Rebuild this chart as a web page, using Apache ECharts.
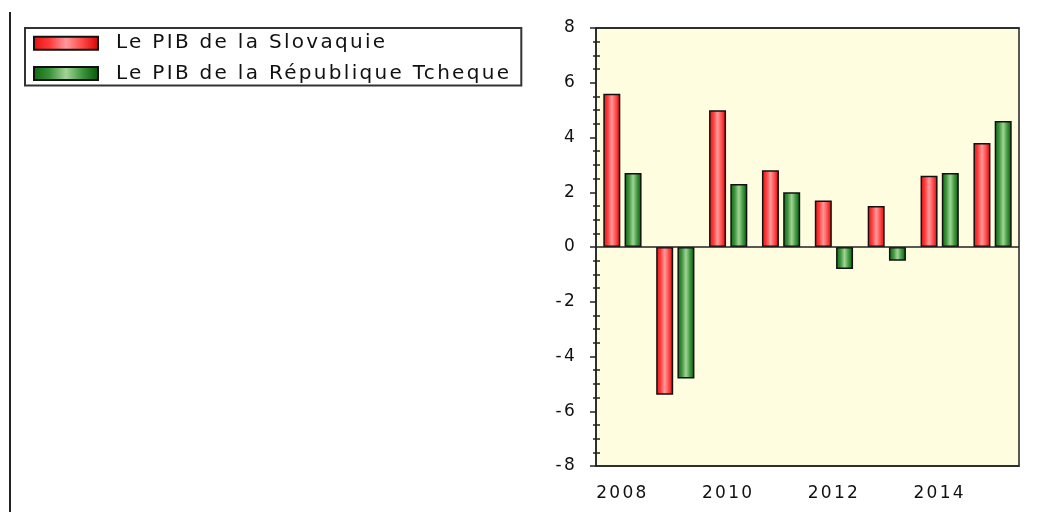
<!DOCTYPE html>
<html>
<head>
<meta charset="utf-8">
<title>PIB Slovaquie / République Tcheque</title>
<script src="https://cdn.jsdelivr.net/npm/echarts@6/dist/echarts.min.js"></script>
<style>
  html, body { margin: 0; padding: 0; background: #fff; }
  #chart { width: 1053px; height: 512px; }
</style>
</head>
<body>
<div id="chart"></div>
<script>
// data
const years = ['2008', '2009', '2010', '2011', '2012', '2013', '2014', '2015']
const slovaquie = [5.6, -5.4, 5.0, 2.8, 1.7, 1.5, 2.6, 3.8]
const tcheque = [2.7, -4.8, 2.3, 2.0, -0.8, -0.5, 2.7, 4.6]
const seriesNames = ['Le PIB de la Slovaquie', 'Le PIB de la République Tcheque']
const yTicks = { min: -8, max: 8, step: 2 }

// the original text is drawn wide, add a bit of letter spacing
const proto = CanvasRenderingContext2D.prototype
const rawFill = proto.fillText
const rawMeasure = proto.measureText
proto.fillText = function () {
  this.letterSpacing = '2.3px'
  return rawFill.apply(this, arguments)
}
proto.measureText = function () {
  this.letterSpacing = '2.3px'
  return rawMeasure.apply(this, arguments)
}

const font = 'DejaVu Sans, Verdana, sans-serif'
const black = '#111'
const lineCol = '#222'

function barGradient (stops) {
  return new echarts.graphic.LinearGradient(0, 0, 1, 0,
    stops.map((c, i) => ({ offset: i / (stops.length - 1), color: c })))
}

const red = barGradient(['#e81010', '#ff3a3a', '#ff9a9a', '#ff4848', '#d80000'])
const green = barGradient(['#0c6a0c', '#3a923a', '#a2d496', '#3c963c', '#065406'])

const hidden = { show: false }
const oddTick = (i) => i % 2 === 1

const option = {
  animation: false,
  textStyle: { fontFamily: font, color: black },
  graphic: [
    {
      type: 'line',
      shape: { x1: 10, y1: 12, x2: 10, y2: 512 },
      style: { stroke: lineCol, lineWidth: 2 }
    }
  ],
  legend: {
    orient: 'vertical',
    left: 25,
    top: 28,
    padding: [4, 10, 1, 8],
    itemGap: 8,
    itemWidth: 64,
    itemHeight: 13,
    icon: 'rect',
    borderColor: '#333',
    borderWidth: 2,
    textStyle: { fontSize: 20, fontFamily: font, color: black, padding: [0, 0, 0, 13] },
    data: seriesNames
  },
  grid: {
    left: 596,
    right: 34,
    top: 28,
    bottom: 46,
    show: true,
    backgroundColor: '#fffde0',
    borderColor: lineCol,
    borderWidth: 1.5
  },
  xAxis: [
    {
      type: 'category',
      position: 'bottom',
      data: years,
      axisLine: { onZero: false, lineStyle: { color: lineCol, width: 1.5 } },
      axisTick: { alignWithLabel: true, interval: oddTick, length: 8, lineStyle: { color: lineCol, width: 1.5 } },
      axisLabel: { interval: 1, margin: 18, fontSize: 17, color: black, fontFamily: font }
    },
    {
      type: 'category',
      position: 'bottom',
      data: years,
      axisLine: { show: false, onZero: false },
      axisTick: { inside: true, alignWithLabel: true, interval: oddTick, length: 8, lineStyle: { color: lineCol, width: 1.5 } },
      axisLabel: hidden
    },
    {
      type: 'category',
      position: 'top',
      data: years,
      axisLine: { onZero: false, lineStyle: { color: lineCol, width: 1.5 } },
      axisTick: { inside: true, alignWithLabel: true, interval: oddTick, length: 8, lineStyle: { color: lineCol, width: 1.5 } },
      axisLabel: hidden
    }
  ],
  yAxis: [
    {
      type: 'value',
      position: 'left',
      min: yTicks.min,
      max: yTicks.max,
      interval: yTicks.step,
      axisLine: { show: true, lineStyle: { color: lineCol, width: 1.5 } },
      axisTick: { show: true, length: 6, lineStyle: { color: lineCol, width: 1.5 } },
      minorTick: { show: true, splitNumber: 4, length: 3, lineStyle: { color: lineCol, width: 1.5 } },
      splitLine: hidden,
      axisLabel: { margin: 19, fontSize: 17, color: black, fontFamily: font }
    },
    {
      type: 'value',
      position: 'left',
      min: yTicks.min,
      max: yTicks.max,
      interval: yTicks.step,
      axisLine: hidden,
      axisTick: { show: false, inside: true },
      minorTick: { show: true, splitNumber: 4, length: 4, lineStyle: { color: lineCol, width: 1.5 } },
      splitLine: hidden,
      axisLabel: hidden
    }
  ],
  series: [
    {
      name: seriesNames[0],
      type: 'bar',
      data: slovaquie,
      barWidth: 17,
      barGap: '25%',
      itemStyle: { color: red, borderColor: '#111', borderWidth: 1.5 },
      markLine: {
        silent: true,
        symbol: 'none',
        label: hidden,
        lineStyle: { color: lineCol, type: 'solid', width: 1.5 },
        data: [{ yAxis: 0 }]
      }
    },
    {
      name: seriesNames[1],
      type: 'bar',
      data: tcheque,
      barWidth: 17,
      barGap: '25%',
      itemStyle: { color: green, borderColor: '#111', borderWidth: 1.5 }
    }
  ]
}

const chart = echarts.init(document.getElementById('chart'))
chart.setOption(option)
window.addEventListener('resize', () => chart.resize())
</script>
</body>
</html>
